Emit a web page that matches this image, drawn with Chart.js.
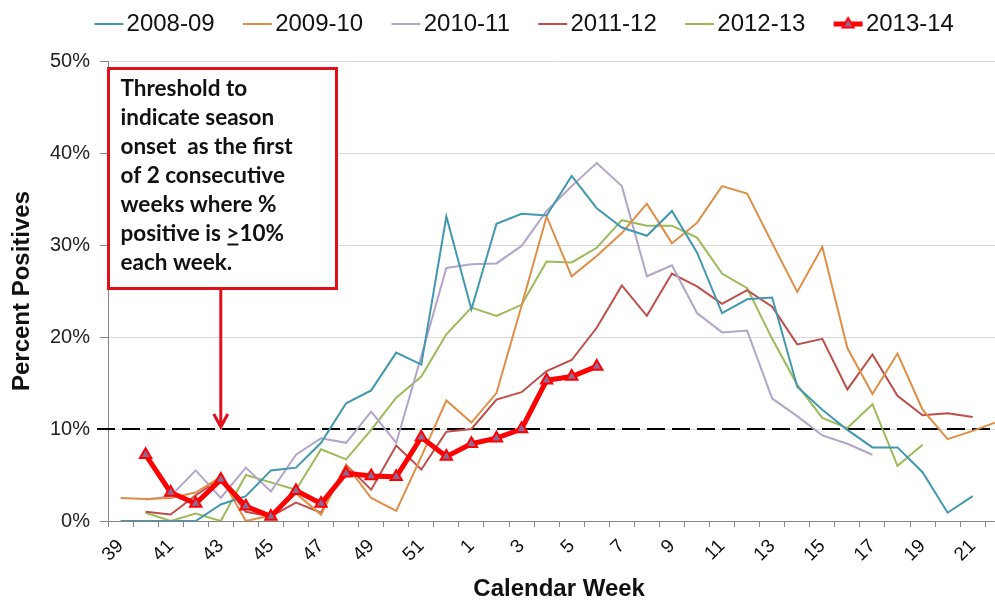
<!DOCTYPE html>
<html>
<head>
<meta charset="utf-8">
<script src="https://cdn.jsdelivr.net/npm/chart.js@4.4.0/dist/chart.umd.min.js"></script>
<style>
html, body { margin: 0; padding: 0; background: #fff; overflow: hidden; }
#wrap { width: 1022px; height: 601px; }
</style>
</head>
<body>
<div id="wrap"><canvas id="chart-flu" width="1022" height="601"></canvas></div>
<script>
// calendar weeks, season runs from week 39 to week 22
var weeks = ['39','40','41','42','43','44','45','46','47','48','49','50','51','52',
  '1','2','3','4','5','6','7','8','9','10','11','12','13','14','15','16','17','18','19','20','21','22'];

var seasons = ['2008-09', '2009-10', '2010-11', '2011-12', '2012-13', '2013-14'];
var seasonColors = ['#4198AF', '#E08E45', '#B3A4CC', '#BF4E4B', '#9BBB59', '#FF0000'];

// percent positives per week
var s0809 = [0, 0, 0, 0, 1.8, 2.7, 5.5, 5.8, 8.5, 12.8, 14.2, 18.3, 17.0, 33.1,
  23.0, 32.3, 33.4, 33.2, 37.5, 34.0, 31.9, 31.0, 33.7, 29.2, 22.6, 24.1, 24.3, 14.6, 12.1, 9.9, 8.0, 8.0, 5.3, 0.9, 2.7, null];
var s0910 = [2.5, 2.4, 2.5, 3.1, 4.8, 0, 0.6, 3.0, 0.7, 6.1, 2.5, 1.1, 7.0, 13.1,
  10.7, 13.9, 23.4, 33.1, 26.6, 28.8, 31.3, 34.5, 30.2, 32.4, 36.4, 35.6, 30.2, 24.9, 29.8, 18.8, 13.8, 18.2, 12.1, 8.9, 9.8, 10.8];
var s1011 = [null, 2.3, 2.7, 5.5, 2.5, 5.8, 3.2, 7.2, 9.0, 8.5, 11.9, 8.5, 17.9, 27.5,
  27.9, 28.0, 29.9, 33.7, 36.4, 38.9, 36.4, 26.6, 27.8, 22.6, 20.5, 20.7, 13.3, 11.4, 9.3, 8.4, 7.2, null, null, null, null, null];
var s1112 = [null, 1.0, 0.7, 2.8, 4.6, 1.0, 0.5, 2.0, 0.9, 6.1, 3.4, 8.2, 5.6, 9.7,
  10.0, 13.2, 14.0, 16.3, 17.5, 21.0, 25.6, 22.3, 26.9, 25.5, 23.6, 25.1, 23.3, 19.2, 19.8, 14.3, 18.1, 13.6, 11.5, 11.7, 11.3, null];
var s1213 = [null, 0.9, 0, 0.8, 0, 5.0, 4.2, 3.4, 7.8, 6.7, 9.9, 13.4, 15.7, 20.3,
  23.2, 22.3, 23.5, 28.2, 28.1, 29.7, 32.7, 32.1, 32.1, 30.8, 26.9, 25.3, 19.8, 14.8, 11.2, 10.1, 12.7, 6.0, 8.3, null, null, null];
var s1314 = [null, 7.2, 3.1, 1.9, 4.5, 1.6, 0.5, 3.3, 1.9, 5.2, 4.9, 4.8, 9.1, 7.0,
  8.4, 9.0, 10.0, 15.3, 15.7, 16.8, null, null, null, null, null, null, null, null, null, null, null, null, null, null, null, null];

var threshold = 10;
var noteLines = ['Threshold to', 'indicate season', 'onset  as the first', 'of 2 consecutive',
  'weeks where %', 'positive is >10%', 'each week.'];
var arrowWeek = '43';

var boxRed = '#E2101A';

Chart.defaults.font.family = "'Liberation Sans', Arial, sans-serif";
Chart.defaults.color = '#111';

function thinLine(i, data) {
  return {
    label: seasons[i],
    data: data,
    borderColor: seasonColors[i],
    backgroundColor: seasonColors[i],
    borderWidth: 2,
    pointRadius: 0,
    tension: 0,
    order: 1
  };
}

// legend sample: a line, with a triangle for the current season
function makeSwatch(color, marker) {
  var c = document.createElement('canvas');
  c.width = 56;
  c.height = 18;
  var g = c.getContext('2d');
  g.strokeStyle = color;
  g.lineWidth = marker ? 5 : 2;
  g.beginPath();
  g.moveTo(26, 9);
  g.lineTo(55, 9);
  g.stroke();
  if (marker) {
    g.beginPath();
    g.moveTo(40.5, 3);
    g.lineTo(46, 12.5);
    g.lineTo(35, 12.5);
    g.closePath();
    g.fillStyle = '#8A6A96';
    g.fill();
    g.lineWidth = 2;
    g.stroke();
  }
  return c;
}

var swatches = seasons.map(function(s, i) { return makeSwatch(seasonColors[i], i === 5); });

var overlay = {
  id: 'overlay',
  beforeDatasetsDraw: function(chart) {
    var ctx = chart.ctx;
    var area = chart.chartArea;
    var y = chart.scales.y.getPixelForValue(threshold);
    ctx.save();
    ctx.strokeStyle = '#000';
    ctx.lineWidth = 2;
    ctx.setLineDash([18, 7]);
    ctx.beginPath();
    ctx.moveTo(area.left - 11, y);
    ctx.lineTo(area.right, y);
    ctx.stroke();
    ctx.restore();
  },
  afterDatasetsDraw: function(chart) {
    var ctx = chart.ctx;
    var area = chart.chartArea;
    var bx = area.left + 0.5, by = area.top + 7.5, bw = 228, bh = 220;

    ctx.save();
    ctx.fillStyle = '#fff';
    ctx.fillRect(bx, by, bw, bh);
    ctx.strokeStyle = boxRed;
    ctx.lineWidth = 3;
    ctx.strokeRect(bx, by, bw, bh);

    ctx.fillStyle = '#111';
    ctx.font = 'bold 22.5px Lato';
    ctx.textBaseline = 'middle';
    ctx.textAlign = 'left';
    var tx = bx + 12;
    for (var i = 0; i < noteLines.length; i++) {
      var ty = by + 20 + i * 29;
      var line = noteLines[i];
      var k = line.indexOf('>');
      if (k < 0) {
        ctx.fillText(line, tx, ty);
      } else {
        var head = line.substring(0, k);
        ctx.fillText(head, tx, ty);
        var gx = tx + ctx.measureText(head).width;
        var gw = ctx.measureText('>').width;
        ctx.fillText(line.substring(k), gx, ty);
        ctx.fillRect(gx + 1, ty + 10, gw - 2, 2);
      }
    }

    // arrow down to the threshold line
    var ax = chart.scales.x.getPixelForValue(weeks.indexOf(arrowWeek));
    var tip = chart.scales.y.getPixelForValue(threshold) - 2;
    ctx.strokeStyle = boxRed;
    ctx.lineWidth = 3;
    ctx.beginPath();
    ctx.moveTo(ax, by + bh);
    ctx.lineTo(ax, tip);
    ctx.moveTo(ax - 7, tip - 13);
    ctx.lineTo(ax, tip);
    ctx.lineTo(ax + 7, tip - 13);
    ctx.stroke();
    ctx.restore();
  }
};

var chartFlu = new Chart(document.getElementById('chart-flu'), {
  type: 'line',
  data: {
    labels: weeks,
    datasets: [
      thinLine(0, s0809),
      thinLine(1, s0910),
      thinLine(2, s1011),
      thinLine(3, s1112),
      thinLine(4, s1213),
      {
        label: seasons[5],
        data: s1314,
        borderColor: seasonColors[5],
        borderWidth: 5,
        tension: 0,
        pointStyle: 'triangle',
        pointRadius: 6.5,
        pointBorderWidth: 2,
        pointBorderColor: seasonColors[5],
        pointBackgroundColor: '#8A6A96',
        order: 0
      }
    ]
  },
  options: {
    responsive: false,
    animation: false,
    layout: { padding: { left: 10, right: 0, top: 0, bottom: 0 } },
    plugins: {
      tooltip: { enabled: false },
      subtitle: { display: true, text: '', weight: 500, padding: 0, font: { size: 15, lineHeight: 1 } },
      legend: {
        labels: {
          usePointStyle: true,
          pointStyleWidth: 36.5,
          padding: 12,
          color: '#111',
          font: { size: 24 },
          generateLabels: function(chart) {
            return chart.data.datasets.map(function(ds, i) {
              return {
                text: ds.label,
                pointStyle: swatches[i],
                fontColor: '#111',
                fillStyle: 'rgba(0,0,0,0)',
                strokeStyle: 'rgba(0,0,0,0)',
                lineWidth: 0,
                hidden: false,
                datasetIndex: i
              };
            });
          }
        }
      }
    },
    scales: {
      x: {
        offset: true,
        grid: { offset: true, drawOnChartArea: false, tickLength: 6, color: '#868686' },
        border: { color: '#868686' },
        ticks: {
          autoSkip: false,
          maxRotation: 45,
          minRotation: 45,
          padding: 8,
          color: '#111',
          font: { size: 19 },
          callback: function(v, i) { return i % 2 === 0 ? weeks[i] : ''; }
        },
        title: {
          display: true,
          text: 'Calendar Week',
          color: '#111',
          font: { size: 24, weight: 'bold', lineHeight: 1 },
          padding: { top: 0, bottom: 0 }
        },
        afterFit: function(s) { s.height = 80; }
      },
      y: {
        min: 0,
        max: 50,
        ticks: {
          stepSize: 10,
          padding: 10,
          color: '#222',
          font: { size: 20 },
          callback: function(v) { return v + '%'; }
        },
        grid: { color: '#D9D9D9', tickColor: '#868686', tickLength: 8 },
        border: { color: '#868686' },
        title: {
          display: true,
          text: 'Percent Positives',
          color: '#111',
          font: { size: 24, weight: 'bold', lineHeight: 1 },
          padding: { top: 0, bottom: 0 }
        },
        afterFit: function(s) { s.width = 98; }
      }
    }
  },
  plugins: [overlay]
});
</script>
</body>
</html>
